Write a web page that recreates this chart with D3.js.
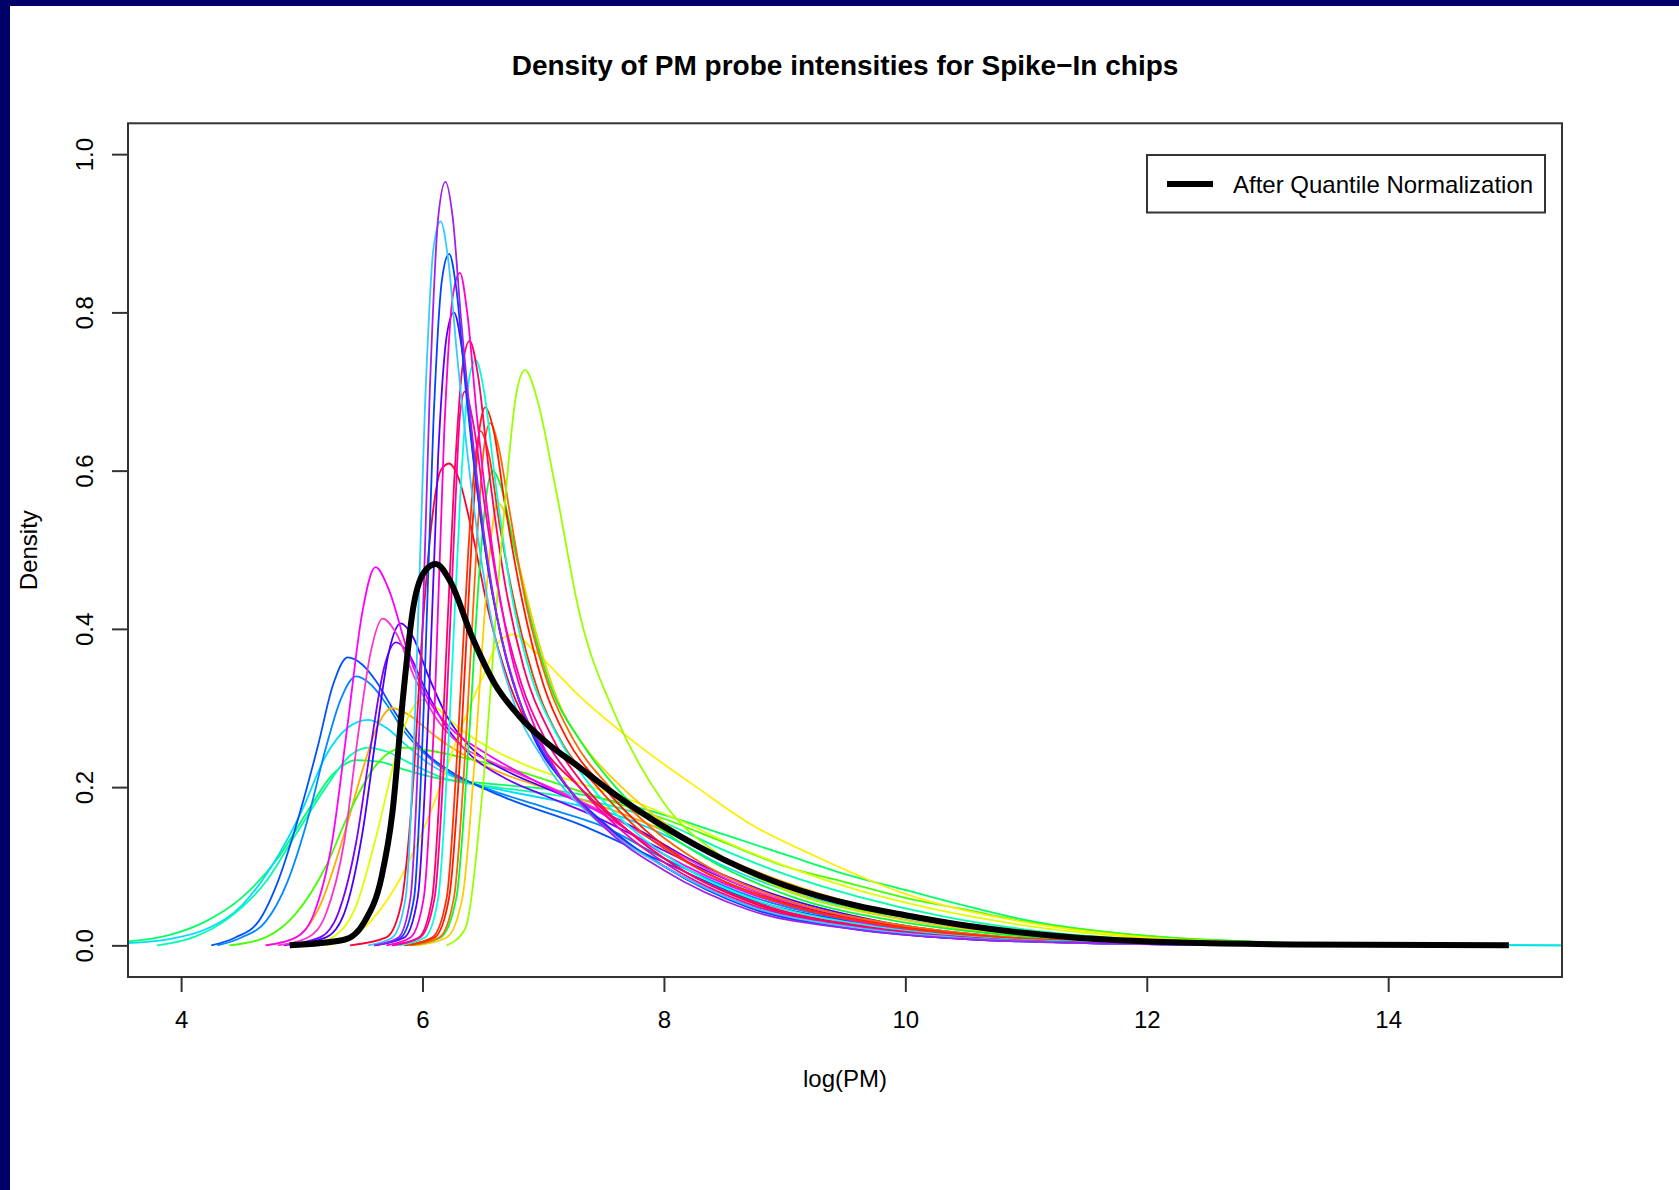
<!DOCTYPE html>
<html>
<head>
<meta charset="utf-8">
<script src="https://cdn.jsdelivr.net/npm/d3@7"></script>
<style>
  html, body { margin: 0; padding: 0; background: #ffffff; }
  svg { display: block; }
  text { font-family: "Liberation Sans", Arial, Helvetica, sans-serif; fill: #000; }
</style>
</head>
<body>
<svg id="chart" width="1679" height="1190"></svg>
<script>
// Tick values on the two axes
const xTicks = [4, 6, 8, 10, 12, 14];
const yTicks = [0.0, 0.2, 0.4, 0.6, 0.8, 1.0];

// Line colour of each chip
const chipColors = [
  "#00ff66", "#00ddff", "#00ffaa", "#0088ff", "#0050ff", "#ffaa00", "#44ff00",
  "#ddff00", "#ffee00", "#7700ff", "#4400ff", "#ff33cc", "#ff00ff",
  "#ff0033", "#ffcc00", "#00ff33", "#ff6600", "#ff1a00", "#ff3300",
  "#00ffdd", "#ff0066", "#ff0099", "#99ff00", "#5500ff", "#ff00cc",
  "#0044ff", "#33ccff", "#a020f0"
];

// Density estimate of each chip: [log(PM), density] pairs
const chipCurves = [
  [[3.56,0.005],[3.9,0.013],[4.2,0.03],[4.5,0.06],[4.8,0.11],[5.05,0.17],[5.25,0.215],[5.45,0.234],[5.65,0.232],[5.85,0.222],[6.1,0.212],[6.5,0.205],[7,0.198],[7.5,0.185],[8,0.165],[8.5,0.14],[9,0.115],[9.5,0.09],[10,0.07],[10.5,0.05],[11,0.032],[12,0.012],[13,0.004],[14,0.001],[15.43,0]],
  [[3.56,0.003],[3.9,0.008],[4.2,0.02],[4.5,0.05],[4.75,0.1],[5.0,0.17],[5.2,0.24],[5.38,0.275],[5.55,0.285],[5.7,0.275],[5.85,0.255],[6.05,0.23],[6.3,0.21],[6.7,0.195],[7.2,0.18],[7.6,0.165],[8,0.14],[8.5,0.1],[9,0.07],[9.6,0.045],[10.5,0.02],[11.5,0.008],[12.5,0.003],[13.5,0.001],[15.43,0]],
  [[3.8,0],[4.1,0.01],[4.4,0.035],[4.7,0.08],[4.95,0.14],[5.2,0.2],[5.4,0.24],[5.55,0.25],[5.7,0.245],[5.9,0.23],[6.2,0.21],[6.6,0.2],[7.1,0.19],[7.6,0.175],[8,0.155],[8.5,0.12],[9,0.09],[9.6,0.062],[10.3,0.037],[11,0.02],[12,0.007],[13,0.002],[14,0]],
  [[4.3,0],[4.5,0.01],[4.7,0.03],[4.88,0.08],[5.05,0.16],[5.2,0.25],[5.32,0.31],[5.45,0.34],[5.57,0.33],[5.7,0.305],[5.85,0.27],[6.0,0.245],[6.2,0.22],[6.5,0.2],[7.0,0.175],[7.5,0.15],[8,0.11],[8.72,0.062],[9.6,0.03],[10.5,0.012],[11.5,0.004],[12.5,0.0015],[14,0]],
  [[4.25,0],[4.45,0.01],[4.64,0.03],[4.8,0.08],[4.95,0.15],[5.13,0.25],[5.26,0.33],[5.38,0.364],[5.5,0.355],[5.61,0.335],[5.75,0.3],[5.88,0.27],[6.05,0.24],[6.23,0.22],[6.68,0.187],[7.3,0.153],[8,0.105],[8.72,0.058],[9.6,0.029],[10.5,0.012],[11.5,0.004],[12.5,0.0015],[14,0]],
  [[4.7,0],[4.95,0.01],[5.15,0.05],[5.35,0.14],[5.5,0.22],[5.62,0.275],[5.75,0.3],[5.9,0.29],[6.1,0.265],[6.35,0.24],[6.7,0.215],[7.1,0.195],[7.5,0.175],[8,0.145],[8.5,0.11],[9,0.08],[9.6,0.052],[10.5,0.025],[11.5,0.01],[12.5,0.003],[14,0]],
  [[4.4,0],[4.7,0.01],[4.95,0.04],[5.2,0.1],[5.4,0.17],[5.6,0.225],[5.85,0.25],[6.1,0.245],[6.4,0.235],[6.8,0.22],[7.2,0.2],[7.6,0.18],[8,0.16],[8.5,0.13],[9,0.1],[9.5,0.08],[10,0.06],[10.5,0.045],[11,0.03],[12,0.012],[13,0.004],[14,0.001],[15,0]],
  [[5.0,0],[5.25,0.01],[5.45,0.05],[5.62,0.14],[5.78,0.24],[5.9,0.295],[6.0,0.31],[6.12,0.3],[6.3,0.275],[6.55,0.25],[6.9,0.225],[7.3,0.205],[7.7,0.185],[8.1,0.16],[8.6,0.125],[9.1,0.095],[9.6,0.07],[10.2,0.047],[11,0.025],[12,0.009],[13,0.003],[14,0]],
  [[5.2,0],[5.5,0.02],[5.8,0.08],[6.06,0.166],[6.32,0.275],[6.5,0.34],[6.64,0.385],[6.75,0.393],[6.94,0.37],[7.3,0.315],[7.83,0.248],[8.27,0.2],[8.72,0.153],[9.25,0.113],[10,0.065],[11,0.029],[12,0.01],[13,0.003],[14,0.001],[15,0]],
  [[4.85,0],[5.15,0.01],[5.3,0.04],[5.45,0.13],[5.57,0.25],[5.68,0.35],[5.78,0.383],[5.88,0.37],[6.02,0.325],[6.18,0.28],[6.4,0.24],[6.7,0.21],[7.0,0.19],[7.4,0.165],[7.8,0.135],[8.2,0.105],[8.9,0.06],[9.8,0.027],[10.7,0.011],[11.7,0.004],[12.7,0.0015],[14,0]],
  [[4.9,0],[5.2,0.01],[5.35,0.04],[5.5,0.14],[5.62,0.27],[5.72,0.37],[5.82,0.407],[5.92,0.39],[6.05,0.34],[6.2,0.29],[6.4,0.25],[6.7,0.22],[7.0,0.2],[7.4,0.175],[7.8,0.145],[8.2,0.11],[8.9,0.065],[9.8,0.03],[10.7,0.012],[11.7,0.004],[12.7,0.0015],[14,0]],
  [[4.8,0],[5.05,0.01],[5.2,0.04],[5.35,0.13],[5.47,0.27],[5.57,0.37],[5.67,0.413],[5.78,0.395],[5.93,0.34],[6.1,0.29],[6.3,0.255],[6.6,0.23],[6.9,0.21],[7.2,0.19],[7.6,0.16],[8,0.125],[8.7,0.072],[9.6,0.034],[10.5,0.014],[11.5,0.005],[12.5,0.0015],[14,0]],
  [[4.7,0],[4.95,0.01],[5.1,0.04],[5.25,0.13],[5.38,0.28],[5.5,0.42],[5.61,0.478],[5.72,0.45],[5.88,0.37],[6.05,0.31],[6.23,0.275],[6.5,0.245],[6.77,0.221],[7.1,0.195],[7.48,0.167],[8,0.115],[8.7,0.066],[9.6,0.03],[10.5,0.012],[11.5,0.004],[12.5,0.0015],[14,0]],
  [[5.4,0],[5.7,0.01],[5.82,0.05],[5.92,0.2],[6.0,0.4],[6.08,0.54],[6.15,0.6],[6.22,0.609],[6.3,0.59],[6.4,0.53],[6.55,0.42],[6.72,0.33],[6.95,0.26],[7.3,0.2],[7.7,0.145],[8.1,0.1],[8.8,0.05],[9.7,0.022],[10.6,0.009],[11.6,0.003],[12.6,0.001],[14,0]],
  [[5.95,0],[6.2,0.01],[6.33,0.06],[6.43,0.23],[6.52,0.43],[6.58,0.53],[6.62,0.56],[6.7,0.54],[6.8,0.48],[6.95,0.39],[7.12,0.31],[7.35,0.25],[7.65,0.2],[8,0.155],[8.4,0.115],[9.1,0.065],[10,0.032],[10.9,0.014],[11.9,0.005],[12.9,0.002],[14,0]],
  [[5.9,0],[6.15,0.01],[6.28,0.06],[6.38,0.25],[6.47,0.47],[6.53,0.57],[6.58,0.6],[6.65,0.58],[6.75,0.51],[6.9,0.41],[7.08,0.32],[7.3,0.26],[7.6,0.2],[7.95,0.15],[8.35,0.11],[9.05,0.062],[9.95,0.03],[10.85,0.013],[11.85,0.005],[12.85,0.002],[14,0]],
  [[5.9,0],[6.14,0.01],[6.26,0.06],[6.36,0.26],[6.45,0.51],[6.51,0.63],[6.56,0.66],[6.63,0.63],[6.72,0.55],[6.86,0.43],[7.04,0.33],[7.25,0.26],[7.55,0.2],[7.9,0.148],[8.3,0.105],[9,0.058],[9.9,0.027],[10.8,0.011],[11.8,0.004],[12.8,0.0015],[14,0]],
  [[5.85,0],[6.1,0.01],[6.22,0.06],[6.32,0.26],[6.41,0.52],[6.47,0.65],[6.52,0.68],[6.59,0.65],[6.68,0.56],[6.82,0.44],[7.0,0.33],[7.2,0.26],[7.5,0.2],[7.85,0.145],[8.2,0.105],[8.9,0.058],[9.8,0.027],[10.7,0.011],[11.7,0.004],[12.7,0.0015],[14,0]],
  [[5.85,0],[6.08,0.01],[6.2,0.06],[6.29,0.25],[6.38,0.5],[6.44,0.62],[6.48,0.65],[6.55,0.62],[6.64,0.53],[6.78,0.42],[6.96,0.32],[7.16,0.255],[7.45,0.2],[7.8,0.145],[8.2,0.104],[8.9,0.057],[9.8,0.026],[10.7,0.011],[11.7,0.004],[12.7,0.0015],[14,0]],
  [[5.8,0],[6.02,0.01],[6.13,0.06],[6.22,0.27],[6.31,0.56],[6.38,0.71],[6.44,0.74],[6.51,0.7],[6.6,0.59],[6.73,0.45],[6.9,0.34],[7.1,0.27],[7.4,0.2],[7.75,0.145],[8.1,0.105],[8.8,0.055],[9.7,0.025],[10.6,0.01],[11.6,0.004],[12.6,0.001],[14,0]],
  [[5.75,0],[5.97,0.01],[6.08,0.06],[6.17,0.28],[6.26,0.58],[6.33,0.73],[6.39,0.764],[6.46,0.72],[6.55,0.6],[6.68,0.46],[6.84,0.35],[7.05,0.27],[7.35,0.2],[7.7,0.145],[8.1,0.1],[8.8,0.052],[9.7,0.023],[10.6,0.009],[11.6,0.003],[12.6,0.001],[14,0]],
  [[5.75,0],[5.98,0.01],[6.1,0.06],[6.19,0.27],[6.27,0.55],[6.31,0.67],[6.35,0.7],[6.42,0.66],[6.52,0.55],[6.65,0.43],[6.82,0.33],[7.02,0.26],[7.3,0.2],[7.65,0.145],[8.05,0.1],[8.75,0.05],[9.65,0.022],[10.55,0.009],[11.55,0.003],[12.55,0.001],[14,0]],
  [[6.2,0],[6.35,0.02],[6.5,0.2],[6.65,0.5],[6.78,0.7],[6.85,0.727],[6.95,0.69],[7.1,0.58],[7.3,0.42],[7.6,0.29],[8.0,0.18],[8.5,0.11],[9,0.07],[10,0.035],[11,0.015],[12,0.006],[13,0.002],[14,0.0005],[15,0]],
  [[5.6,0],[5.85,0.01],[5.96,0.06],[6.05,0.3],[6.13,0.62],[6.2,0.77],[6.26,0.8],[6.33,0.75],[6.42,0.62],[6.55,0.47],[6.7,0.36],[6.9,0.27],[7.2,0.2],[7.6,0.14],[8,0.1],[8.7,0.05],[9.6,0.021],[10.5,0.008],[11.5,0.003],[12.5,0.001],[14,0]],
  [[5.7,0],[5.9,0.01],[6.01,0.06],[6.1,0.3],[6.18,0.65],[6.25,0.82],[6.31,0.85],[6.37,0.8],[6.45,0.67],[6.58,0.5],[6.73,0.37],[6.92,0.28],[7.2,0.2],[7.6,0.14],[8,0.1],[8.7,0.05],[9.6,0.022],[10.5,0.009],[11.5,0.003],[12.5,0.001],[14,0]],
  [[5.6,0],[5.82,0.01],[5.93,0.06],[6.01,0.3],[6.09,0.66],[6.16,0.84],[6.22,0.874],[6.28,0.83],[6.36,0.7],[6.5,0.52],[6.65,0.39],[6.85,0.29],[7.1,0.22],[7.5,0.155],[8,0.1],[8.7,0.048],[9.6,0.02],[10.5,0.008],[11.5,0.003],[12.5,0.001],[14,0]],
  [[5.55,0],[5.75,0.01],[5.86,0.06],[5.94,0.3],[6.02,0.68],[6.09,0.88],[6.15,0.915],[6.21,0.87],[6.29,0.74],[6.42,0.56],[6.56,0.42],[6.75,0.31],[7.0,0.235],[7.5,0.15],[8,0.1],[8.7,0.05],[9.6,0.022],[10.5,0.009],[11.5,0.003],[12.5,0.001],[14,0]],
  [[5.6,0],[5.8,0.01],[5.9,0.06],[5.98,0.3],[6.06,0.7],[6.13,0.92],[6.19,0.965],[6.25,0.92],[6.32,0.79],[6.46,0.58],[6.6,0.43],[6.78,0.32],[7.03,0.24],[7.5,0.15],[8,0.095],[8.7,0.045],[9.6,0.02],[10.5,0.008],[11.5,0.003],[12.5,0.001],[14,0]]
];

// Common density after quantile normalization
const quantileCurve = [
  [4.9,0],[5.35,0.007],[5.52,0.03],[5.66,0.086],[5.75,0.167],[5.84,0.316],[5.92,0.424],[6.01,0.471],[6.11,0.482],[6.23,0.46],[6.41,0.39],[6.6,0.33],[6.8,0.29],[7.0,0.26],[7.3,0.225],[7.6,0.19],[8.0,0.15],[8.5,0.108],[9.0,0.076],[9.6,0.05],[10.0,0.038],[10.5,0.025],[11.4,0.01],[12.3,0.0035],[13.2,0.0012],[15.0,0]
];

const titleText = "Density of PM probe intensities for Spike\u2212In chips";
const xLabel = "log(PM)";
const yLabel = "Density";
const legendLabel = "After Quantile Normalization";

const svg = d3.select("#chart");

// Dark frame strips along the left and top edges
svg.append("rect").attr("x", 0).attr("y", 0).attr("width", 1679).attr("height", 6).attr("fill", "#000066");
svg.append("rect").attr("x", 0).attr("y", 0).attr("width", 10).attr("height", 1190).attr("fill", "#000066");

const plot = { left: 128, top: 123.3, right: 1562, bottom: 977 };

const x = d3.scaleLinear().domain([3.56, 15.44]).range([plot.left, plot.right]);
const y = d3.scaleLinear().domain([-0.04, 1.039]).range([plot.bottom, plot.top]);

svg.append("clipPath").attr("id", "plot-clip")
  .append("rect")
  .attr("x", plot.left).attr("y", plot.top)
  .attr("width", plot.right - plot.left).attr("height", plot.bottom - plot.top);

const line = d3.line()
  .x(d => x(d[0]))
  .y(d => y(d[1]))
  .curve(d3.curveMonotoneX);

const curves = svg.append("g").attr("clip-path", "url(#plot-clip)");

curves.selectAll("path.chip")
  .data(chipCurves)
  .join("path")
  .attr("class", "chip")
  .attr("d", line)
  .attr("fill", "none")
  .attr("stroke", (d, i) => chipColors[i])
  .attr("stroke-width", 1.8)
  .attr("stroke-linejoin", "round");

curves.append("path")
  .datum(quantileCurve)
  .attr("d", line)
  .attr("fill", "none")
  .attr("stroke", "#000")
  .attr("stroke-width", 6)
  .attr("stroke-linejoin", "round")
  .attr("stroke-linecap", "butt");

// Plot box
svg.append("rect")
  .attr("x", plot.left).attr("y", plot.top)
  .attr("width", plot.right - plot.left).attr("height", plot.bottom - plot.top)
  .attr("fill", "none").attr("stroke", "#333").attr("stroke-width", 2);

// Bottom axis
const xAxis = svg.append("g")
  .attr("transform", `translate(0,${plot.bottom})`)
  .call(d3.axisBottom(x).tickValues(xTicks).tickSize(15).tickPadding(19).tickFormat(d3.format("d")));
xAxis.select(".domain").remove();
xAxis.selectAll(".tick line").attr("stroke", "#333").attr("stroke-width", 2);
xAxis.selectAll(".tick text")
  .attr("fill", "#000")
  .style("font-size", "24px")
  .style("font-family", "'Liberation Sans', Arial, sans-serif");

// Left axis with labels turned parallel to the axis
const yAxis = svg.append("g")
  .attr("transform", `translate(${plot.left},0)`)
  .call(d3.axisLeft(y).tickValues(yTicks).tickSize(16).tickFormat(d3.format(".1f")));
yAxis.select(".domain").remove();
yAxis.selectAll(".tick line").attr("stroke", "#333").attr("stroke-width", 2);
yAxis.selectAll(".tick text")
  .attr("x", null).attr("dy", null)
  .attr("text-anchor", "middle")
  .attr("transform", "translate(-35,0) rotate(-90)")
  .attr("fill", "#000")
  .style("font-size", "24px")
  .style("font-family", "'Liberation Sans', Arial, sans-serif");

// Title and axis titles
svg.append("text")
  .attr("x", (plot.left + plot.right) / 2).attr("y", 75)
  .attr("text-anchor", "middle")
  .style("font-size", "28px").style("font-weight", "bold")
  .text(titleText);

svg.append("text")
  .attr("x", (plot.left + plot.right) / 2).attr("y", 1087)
  .attr("text-anchor", "middle")
  .style("font-size", "24px")
  .text(xLabel);

svg.append("text")
  .attr("transform", `translate(37,${(plot.top + plot.bottom) / 2}) rotate(-90)`)
  .attr("text-anchor", "middle")
  .style("font-size", "24px")
  .text(yLabel);

// Legend
const legend = svg.append("g");
legend.append("rect")
  .attr("x", 1147).attr("y", 155).attr("width", 398).attr("height", 57.5)
  .attr("fill", "#fff").attr("stroke", "#333").attr("stroke-width", 2);
legend.append("line")
  .attr("x1", 1167).attr("x2", 1213).attr("y1", 184).attr("y2", 184)
  .attr("stroke", "#000").attr("stroke-width", 6);
legend.append("text")
  .attr("x", 1233).attr("y", 192.5)
  .style("font-size", "24px")
  .text(legendLabel);
</script>
</body>
</html>
